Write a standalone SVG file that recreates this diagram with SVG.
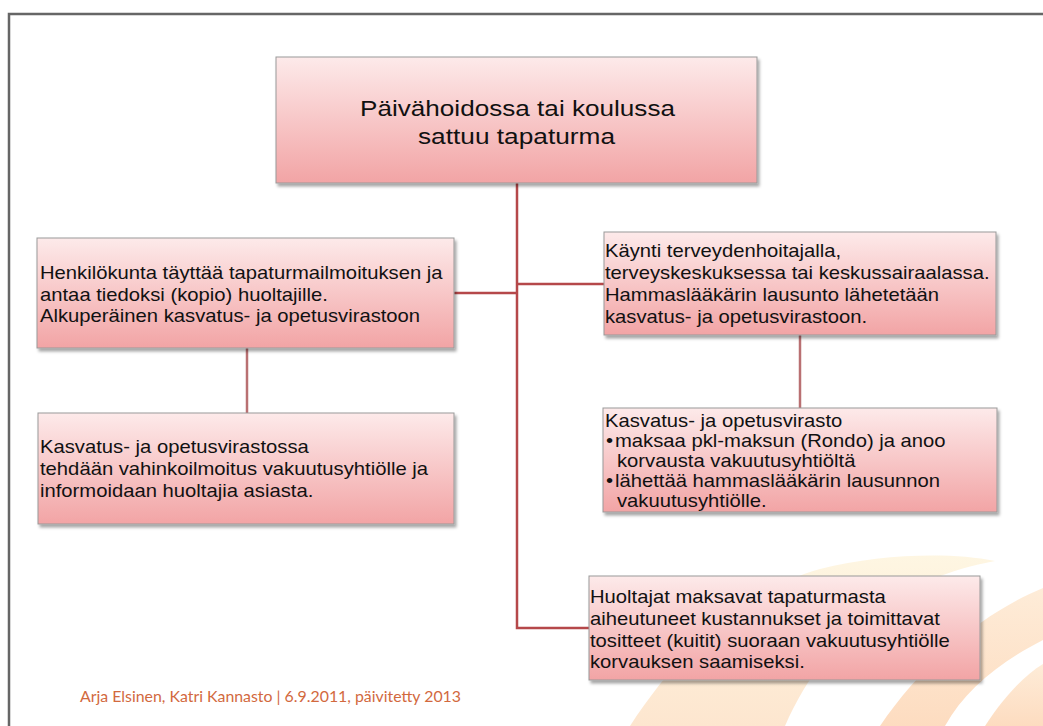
<svg xmlns="http://www.w3.org/2000/svg" width="1043" height="726" viewBox="0 0 1043 726">
<defs>
<linearGradient id="boxg" x1="0" y1="0" x2="0" y2="1">
<stop offset="0" stop-color="#fdeaea"/>
<stop offset="1" stop-color="#f2a4a5"/>
</linearGradient>
<linearGradient id="bandA" x1="0" y1="0" x2="0" y2="1">
<stop offset="0" stop-color="#fef6e2"/>
<stop offset="1" stop-color="#fde6cf"/>
</linearGradient>
<linearGradient id="bandB" x1="0" y1="0" x2="0" y2="1">
<stop offset="0" stop-color="#feecd8"/>
<stop offset="1" stop-color="#fddcc0"/>
</linearGradient>
<filter id="sh" x="-5%" y="-10%" width="115%" height="130%">
<feDropShadow dx="2" dy="3" stdDeviation="1.8" flood-color="#000" flood-opacity="0.35"/>
</filter>
</defs>
<style>
.box{fill:url(#boxg);stroke:#999;stroke-width:1;filter:url(#sh)}
.t{font-family:"Liberation Sans",Arial,sans-serif;font-size:18px;fill:#111}
.big{font-family:"Liberation Sans",Arial,sans-serif;font-size:22px;fill:#111}
.c{fill:none;stroke:#b5484a;stroke-width:2.5}
.c2{fill:none;stroke:#b97072;stroke-width:2.5}
.foot{font-family:Lato,"Liberation Sans",sans-serif;font-size:15px;fill:#d2693e}
</style>
<rect width="1043" height="726" fill="#fff"/>
<g id="background">
<path d="M630,726 C680,650 740,592 820,569 C880,554 950,552 995,561 C905,578 830,625 785,726 Z" fill="url(#bandA)"/>
<path d="M880,726 C925,660 985,612 1043,588 L1043,640 C1000,662 965,690 945,726 Z" fill="url(#bandB)"/>
<path d="M985,726 C1005,695 1025,675 1043,664 L1043,726 Z" fill="url(#bandB)"/>
</g>
<path d="M9,726 V14 H1043" fill="none" stroke="#666" stroke-width="2.5"/>
<g id="connectors">
<path class="c" d="M517,183 V628 H589"/>
<path class="c" d="M454,293 H517"/>
<path class="c" d="M517,284 H604"/>
<path class="c2" d="M247,348 V413"/>
<path class="c2" d="M800,335 V408"/>
</g>
<g id="n_top">
<rect class="box" x="276" y="57" width="481" height="126"/>
<text class="big" x="360" y="116" textLength="315" lengthAdjust="spacingAndGlyphs">Päivähoidossa tai koulussa</text>
<text class="big" x="418" y="144" textLength="197" lengthAdjust="spacingAndGlyphs">sattuu tapaturma</text>
</g>
<g id="n_left1">
<rect class="box" x="37" y="238" width="417" height="110"/>
<text class="t" transform="translate(40,279) scale(1.125,1)">Henkilökunta täyttää tapaturmailmoituksen ja</text>
<text class="t" transform="translate(40,301) scale(1.125,1)">antaa tiedoksi (kopio) huoltajille.</text>
<text class="t" transform="translate(40,322) scale(1.125,1)">Alkuperäinen kasvatus- ja opetusvirastoon</text>
</g>
<g id="n_left2">
<rect class="box" x="38" y="413" width="416" height="111"/>
<text class="t" transform="translate(40,453) scale(1.125,1)">Kasvatus- ja opetusvirastossa</text>
<text class="t" transform="translate(40,475) scale(1.125,1)">tehdään vahinkoilmoitus vakuutusyhtiölle ja</text>
<text class="t" transform="translate(40,497) scale(1.125,1)">informoidaan huoltajia asiasta.</text>
</g>
<g id="n_right1">
<rect class="box" x="604" y="232" width="392" height="103"/>
<text class="t" transform="translate(605,257) scale(1.125,1)">Käynti terveydenhoitajalla,</text>
<text class="t" transform="translate(605,279) scale(1.125,1)">terveyskeskuksessa tai keskussairaalassa.</text>
<text class="t" transform="translate(605,301) scale(1.125,1)">Hammaslääkärin lausunto lähetetään</text>
<text class="t" transform="translate(605,323) scale(1.125,1)">kasvatus- ja opetusvirastoon.</text>
</g>
<g id="n_right2">
<rect class="box" x="603" y="408" width="394" height="104"/>
<text class="t" transform="translate(605,427) scale(1.125,1)">Kasvatus- ja opetusvirasto</text>
<text class="t" transform="translate(606,447) scale(1.125,1)">•</text>
<text class="t" transform="translate(615,447) scale(1.125,1)">maksaa pkl-maksun (Rondo) ja anoo</text>
<text class="t" transform="translate(617,467) scale(1.125,1)">korvausta vakuutusyhtiöltä</text>
<text class="t" transform="translate(606,487) scale(1.125,1)">•</text>
<text class="t" transform="translate(615,487) scale(1.125,1)">lähettää hammaslääkärin lausunnon</text>
<text class="t" transform="translate(617,507) scale(1.125,1)">vakuutusyhtiölle.</text>
</g>
<g id="n_bottom">
<rect class="box" x="589" y="576" width="391" height="104"/>
<text class="t" transform="translate(590,603) scale(1.125,1)">Huoltajat maksavat tapaturmasta</text>
<text class="t" transform="translate(590,625) scale(1.125,1)">aiheutuneet kustannukset ja toimittavat</text>
<text class="t" transform="translate(590,647) scale(1.125,1)">tositteet (kuitit) suoraan vakuutusyhtiölle</text>
<text class="t" transform="translate(590,668) scale(1.125,1)">korvauksen saamiseksi.</text>
</g>
<text class="foot" x="80" y="702" textLength="381" lengthAdjust="spacingAndGlyphs">Arja Elsinen, Katri Kannasto | 6.9.2011, päivitetty 2013</text>
</svg>
